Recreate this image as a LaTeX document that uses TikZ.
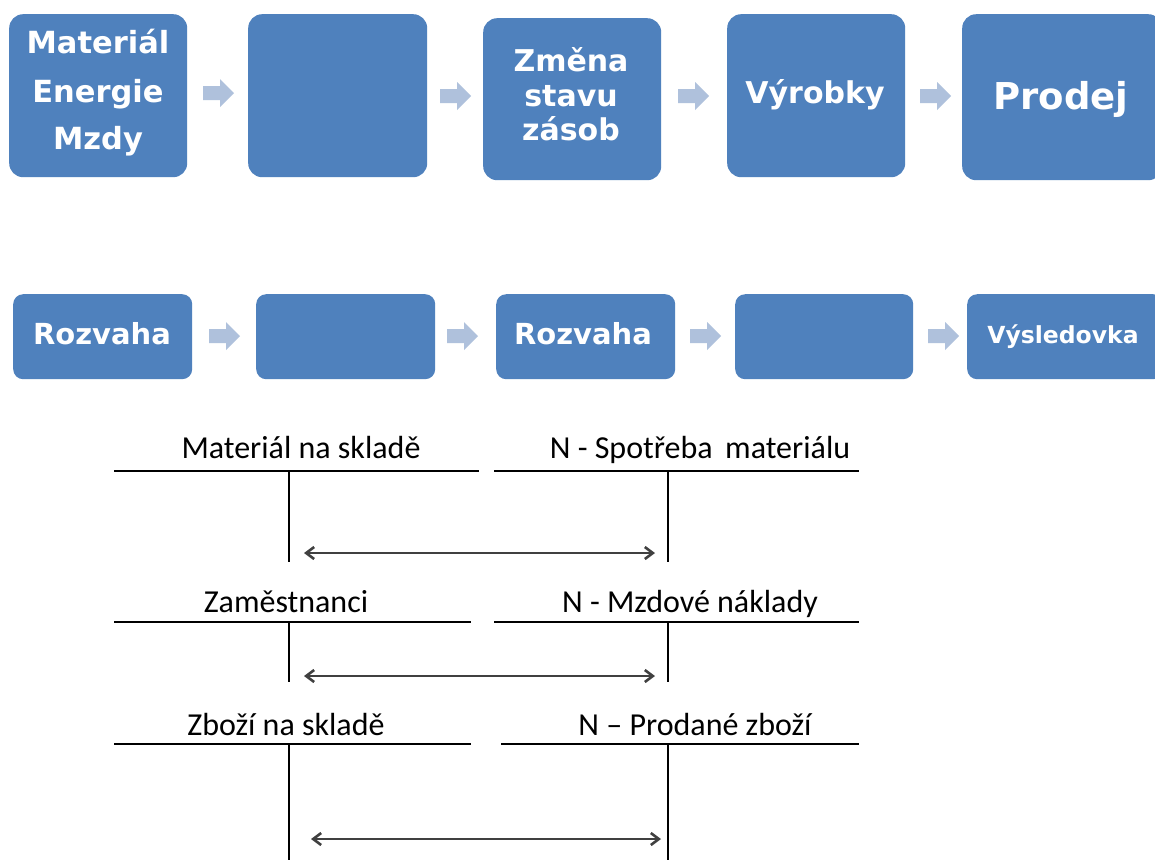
\documentclass[tikz,border=0pt]{standalone}
\usepackage{fontspec}
\setmainfont{Carlito}
\newfontfamily\boxfont{DejaVu Sans}
\usetikzlibrary{arrows.meta}
\definecolor{boxblue}{HTML}{4F81BD}
\definecolor{arrowblue}{HTML}{AFC1DC}
\definecolor{dblgray}{HTML}{404040}
\begin{document}
\begin{tikzpicture}[x=1pt,y=-1pt,
  box/.style={fill=boxblue, rounded corners=14pt, anchor=north west, inner sep=0pt},
  boxsm/.style={box, rounded corners=10pt},
  btext/.style={text=white, inner sep=0pt, anchor=base},
  lbl/.style={font=\fontsize{32}{36}\selectfont, inner sep=0pt, anchor=base},
  tline/.style={line width=2pt},
  vline/.style={line width=1.4pt},
  dbl/.style={{Straight Barb[length=8pt,width=12pt]}-{Straight Barb[length=8pt,width=12pt]}, line width=2.6pt, draw=dblgray}
]
\useasboundingbox (0,0) rectangle (1155,860);
\fill[white] (0,0) rectangle (1155,860);

% block arrow macro
\newcommand\blkarrow[2]{%
  \fill[arrowblue] (#1,#2) ++(0,-7) -- ++(17,0) -- ++(0,-7) -- ++(14,14) -- ++(-14,14) -- ++(0,-7) -- ++(-17,0) -- cycle;}

% ---------- top row ----------
\node[box, minimum width=178pt, minimum height=163pt] (b1) at (9,14) {};
\node[box, minimum width=179pt, minimum height=163pt] (b2) at (248,14) {};
\node[box, minimum width=178pt, minimum height=162pt] (b3) at (483,18) {};
\node[box, minimum width=178pt, minimum height=163pt] (b4) at (727,14) {};
\node[box, minimum width=200pt, minimum height=166pt] (b5) at (962,14) {};

\node[btext, font=\boxfont\bfseries\fontsize{30.5}{36}\selectfont] (t1a) at (98,53) {Materiál};
\node[btext, font=\boxfont\bfseries\fontsize{30.5}{36}\selectfont] (t1b) at (98,102) {Energie};
\node[btext, font=\boxfont\bfseries\fontsize{30.5}{36}\selectfont] (t1c) at (98,149) {Mzdy};

\node[btext, font=\boxfont\bfseries\fontsize{30}{36}\selectfont] (t3a) at (571,71) {Změna};
\node[btext, font=\boxfont\bfseries\fontsize{30}{36}\selectfont] (t3b) at (571,106) {stavu};
\node[btext, font=\boxfont\bfseries\fontsize{30}{36}\selectfont] (t3c) at (571,140) {zásob};

\node[btext, font=\boxfont\bfseries\fontsize{30}{36}\selectfont] (t4) at (815,103) {Výrobky};
\node[btext, font=\boxfont\bfseries\fontsize{37}{40}\selectfont] (t5) at (1061,109) {Prodej};

\blkarrow{203}{93}
\blkarrow{440}{96}
\blkarrow{678}{96}
\blkarrow{920}{96}

% ---------- second row ----------
\node[boxsm, minimum width=179pt, minimum height=85pt] (r1) at (13,294) {};
\node[boxsm, minimum width=179pt, minimum height=85pt] (r2) at (256,294) {};
\node[boxsm, minimum width=179pt, minimum height=85pt] (r3) at (496,294) {};
\node[boxsm, minimum width=178pt, minimum height=85pt] (r4) at (735,294) {};
\node[boxsm, minimum width=196pt, minimum height=85pt] (r5) at (967,294) {};

\node[btext, font=\boxfont\bfseries\fontsize{29}{34}\selectfont] (s1) at (102,344) {Rozvaha};
\node[btext, font=\boxfont\bfseries\fontsize{29}{34}\selectfont] (s3) at (583,344) {Rozvaha};
\node[btext, font=\boxfont\bfseries\fontsize{23.5}{28}\selectfont] (s5) at (1063,343) {Výsledovka};

\blkarrow{209}{336}
\blkarrow{447}{336}
\blkarrow{690}{336}
\blkarrow{928}{336}

% ---------- T accounts ----------
\node[lbl] (l1a) at (301,458) {Materiál na skladě};
\node[lbl] (l1b) at (700,458) {N - Spotřeba\, materiálu};
\draw[tline] (114,470.5) -- (479,470.5);
\draw[tline] (494,470.5) -- (859,470.5);
\draw[vline] (289,470.5) -- (289,562);
\draw[vline] (668,470.5) -- (668,562);
\coordinate (d1l) at (304,553);
\coordinate (d1r) at (655,553);
\draw[dbl] (d1l) -- (d1r);

\node[lbl] (l2a) at (286,612) {Zaměstnanci};
\node[lbl] (l2b) at (690,612) {N - Mzdové náklady};
\draw[tline] (114,621.5) -- (471,621.5);
\draw[tline] (494,621.5) -- (859,621.5);
\draw[vline] (289,621.5) -- (289,682);
\draw[vline] (668,621.5) -- (668,682);
\coordinate (d2l) at (304,676);
\coordinate (d2r) at (655,676);
\draw[dbl] (d2l) -- (d2r);

\node[lbl] (l3a) at (286,735) {Zboží na skladě};
\node[lbl] (l3b) at (695,735) {N – Prodané zboží};
\draw[tline] (114,743.5) -- (471,743.5);
\draw[tline] (501,743.5) -- (859,743.5);
\draw[vline] (289,743.5) -- (289,860);
\draw[vline] (668,743.5) -- (668,860);
\coordinate (d3l) at (311,839);
\coordinate (d3r) at (661,839);
\draw[dbl] (d3l) -- (d3r);
\end{tikzpicture}
\end{document}
